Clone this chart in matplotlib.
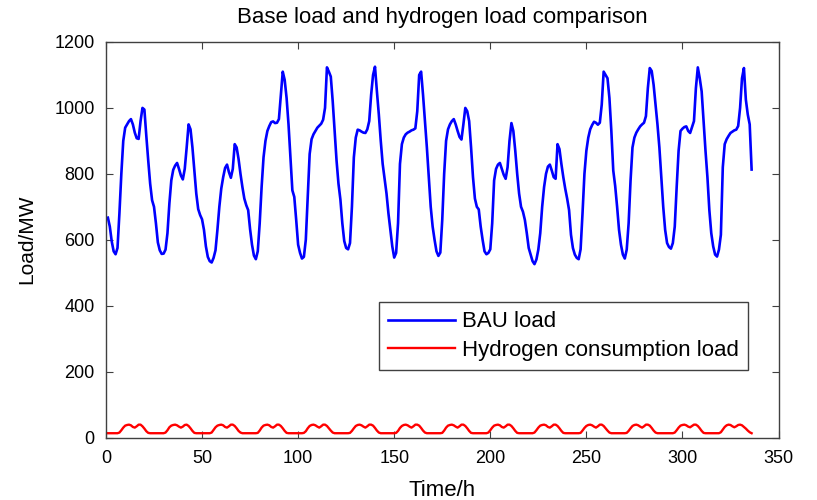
import matplotlib
matplotlib.use("Agg")
import matplotlib.pyplot as plt
import numpy as np

# hourly values, two weeks (hour 1..336)
bau_load = [
    667, 640, 595, 565, 556, 575, 680, 800, 900, 940, 950, 960, 966, 950, 925, 908, 906, 960, 1000, 995, 915, 840, 770, 720,
    700, 650, 592, 568, 557, 558, 570, 620, 710, 780, 812, 825, 833, 815, 795, 783, 815, 880, 950, 935, 880, 810, 740, 693,
    675, 662, 630, 580, 548, 535, 531, 545, 568, 630, 700, 755, 790, 818, 828, 805, 788, 815, 890, 880, 845, 800, 760, 725,
    705, 690, 632, 585, 552, 541, 565, 650, 760, 850, 900, 930, 945, 957, 959, 954, 955, 966, 1040, 1110, 1085, 1030, 950, 850,
    750, 730, 660, 585, 560, 543, 548, 600, 730, 860, 905, 920, 930, 940, 946, 952, 964, 1000, 1123, 1110, 1095, 1020, 930, 840,
    770, 722, 650, 596, 575, 571, 590, 700, 850, 910, 934, 932, 928, 925, 924, 935, 960, 1040, 1100, 1125, 1050, 980, 900, 830,
    785, 740, 680, 630, 580, 546, 560, 650, 830, 890, 910, 920, 925, 928, 932, 934, 938, 990, 1100, 1110, 1040, 960, 880, 790,
    700, 640, 600, 565, 551, 561, 660, 800, 900, 935, 950, 960, 966, 950, 930, 912, 904, 950, 1000, 990, 960, 880, 790, 725,
    700, 692, 640, 600, 565, 556, 560, 571, 650, 780, 815, 828, 833, 815, 797, 785, 820, 900, 954, 930, 870, 800, 740, 700,
    685, 660, 620, 575, 555, 535, 526, 540, 570, 620, 700, 760, 800, 822, 828, 810, 790, 785, 890, 875, 830, 790, 755, 725,
    690, 615, 575, 555, 545, 541, 571, 680, 800, 870, 910, 935, 948, 958, 955, 949, 955, 1010, 1110, 1100, 1090, 1030, 930, 810,
    763, 700, 630, 585, 555, 543, 570, 650, 780, 880, 910, 925, 935, 944, 950, 955, 975, 1060, 1121, 1112, 1070, 1010, 950, 880,
    790, 700, 630, 590, 578, 573, 590, 640, 760, 870, 930, 937, 942, 944, 930, 924, 942, 960, 1060, 1123, 1090, 1050, 960, 870,
    790, 690, 620, 580, 555, 549, 570, 615, 820, 890, 905, 915, 924, 928, 932, 934, 945, 1000, 1090, 1121, 1025, 980, 950, 813,
]

h2_load = [
    13, 13, 13, 13, 13, 13, 15, 22, 30, 36, 38, 39, 37, 32, 30, 34, 39, 39, 34, 27, 19, 14, 13, 13,
    13, 13, 13, 13, 13, 13, 15, 22, 31, 36, 38, 39, 37, 33, 30, 33, 38, 39, 35, 28, 20, 14, 13, 13,
    13, 13, 13, 13, 13, 13, 15, 23, 31, 36, 38, 39, 37, 32, 30, 34, 39, 39, 35, 28, 20, 15, 13, 13,
    13, 13, 13, 13, 13, 13, 14, 21, 30, 36, 38, 39, 37, 32, 30, 34, 39, 39, 35, 28, 20, 14, 13, 13,
    13, 13, 13, 13, 13, 13, 14, 19, 28, 35, 38, 39, 37, 33, 30, 34, 39, 39, 35, 28, 21, 15, 13, 13,
    13, 13, 13, 13, 13, 13, 14, 20, 28, 35, 38, 39, 37, 33, 30, 34, 39, 39, 36, 29, 21, 15, 13, 13,
    13, 13, 13, 13, 13, 13, 14, 20, 29, 35, 38, 39, 37, 33, 30, 34, 39, 39, 36, 29, 21, 15, 13, 13,
    13, 13, 13, 13, 13, 13, 14, 21, 30, 36, 38, 39, 37, 33, 30, 34, 39, 39, 35, 28, 20, 14, 13, 13,
    13, 13, 13, 13, 13, 13, 15, 22, 30, 36, 38, 39, 37, 32, 30, 34, 39, 39, 35, 28, 20, 14, 13, 13,
    13, 13, 13, 13, 13, 13, 15, 22, 30, 36, 38, 39, 37, 32, 30, 34, 39, 39, 35, 28, 20, 14, 13, 13,
    13, 13, 13, 13, 13, 13, 14, 21, 29, 35, 38, 39, 37, 33, 30, 34, 39, 39, 35, 28, 21, 15, 13, 13,
    13, 13, 13, 13, 13, 13, 14, 20, 28, 35, 38, 39, 37, 33, 30, 34, 39, 39, 36, 29, 21, 15, 13, 13,
    13, 13, 13, 13, 13, 13, 13, 15, 22, 30, 36, 38, 39, 37, 33, 31, 35, 39, 39, 35, 28, 20, 14, 13,
    13, 13, 13, 13, 13, 13, 13, 16, 24, 32, 37, 39, 38, 34, 31, 34, 38, 39, 37, 32, 27, 21, 16, 13,
]

hours = np.arange(1, len(bau_load) + 1)

x_ticks = [0, 50, 100, 150, 200, 250, 300, 350]
y_ticks = [0, 200, 400, 600, 800, 1000, 1200]

plt.rcParams['font.family'] = ['Liberation Sans', 'DejaVu Sans']

fig = plt.figure(figsize=(8.17, 5.0), dpi=100)
ax = fig.add_axes([0.1297, 0.125, 0.8232, 0.791])

ax.plot(hours, bau_load, color='#0000ff', lw=1.9, label='BAU load')
ax.plot(hours, h2_load, color='#ff0000', lw=1.7, label='Hydrogen consumption load')

ax.set_xlim(0, 350)
ax.set_ylim(0, 1200)
ax.set_xticks(x_ticks)
ax.set_yticks(y_ticks)
ax.tick_params(direction='in', top=True, right=True, length=5, width=0.8,
               labelsize=13, colors='0.25', labelcolor='black')
ax.tick_params(axis='x', pad=9)
ax.tick_params(axis='y', pad=8)
for s in ax.spines.values():
    s.set_color('0.25')
    s.set_linewidth(1.0)

ax.set_title('Base load and hydrogen load comparison', fontsize=16, pad=14)
ax.set_xlabel('Time/h', fontsize=16, labelpad=9)
ax.set_ylabel('Load/MW', fontsize=15, labelpad=13)

leg = ax.legend(loc='lower right', bbox_to_anchor=(0.9547, 0.1707), fontsize=16,
                frameon=True, fancybox=False, framealpha=1, edgecolor='0.25',
                handlelength=3.0, handletextpad=0.35, labelspacing=0.35,
                borderpad=0.4, borderaxespad=0)
leg.get_frame().set_linewidth(1.0)

fig.savefig('out.png', dpi=100)
